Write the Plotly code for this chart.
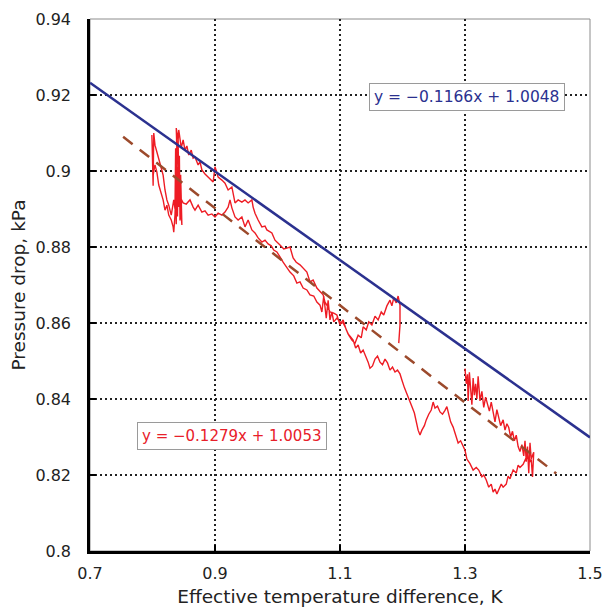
import plotly.graph_objects as go

temp_diff = [
    # upper-right cluster
    1.300, 1.302, 1.304, 1.305, 1.307, 1.309, 1.311, 1.313, 1.315, 1.317, 1.319, 1.321, 1.324, 1.327,
    1.330, 1.333, 1.336, 1.339, 1.342, 1.345, 1.348, 1.351, 1.354, 1.357, 1.361, 1.364, 1.367, 1.370,
    1.373, 1.376, 1.379, 1.382, 1.385, 1.388, 1.391, 1.394, 1.396, 1.398, 1.400, 1.402, 1.404, 1.406,
    1.408, 1.410,
    # lower U going left
    1.404, 1.399, 1.396, 1.393, 1.388, 1.385, 1.382, 1.377, 1.372, 1.369, 1.366, 1.361, 1.358, 1.354,
    1.351, 1.348, 1.345, 1.342, 1.338, 1.334, 1.330, 1.327, 1.322, 1.318, 1.313, 1.308, 1.303, 1.300,
    1.297, 1.293, 1.289, 1.285, 1.281, 1.277, 1.274, 1.271, 1.268, 1.264, 1.260, 1.256, 1.252, 1.249,
    1.246, 1.242, 1.238, 1.235, 1.231, 1.228, 1.225, 1.222, 1.219, 1.215, 1.211, 1.207, 1.203, 1.199,
    1.196, 1.192, 1.188, 1.184, 1.180, 1.176, 1.172, 1.168, 1.164, 1.160, 1.156, 1.152, 1.148, 1.145,
    1.141, 1.137, 1.133, 1.129, 1.125, 1.121, 1.117, 1.113, 1.109, 1.105,
    # lower branch going up-left
    1.100, 1.095, 1.090, 1.087, 1.084, 1.081, 1.078, 1.074, 1.071, 1.068, 1.063, 1.058, 1.052, 1.047,
    1.041, 1.036, 1.031, 1.026, 1.020, 1.015, 1.009, 1.004, 0.999, 0.994, 0.990, 0.985, 0.980, 0.975,
    0.969, 0.964, 0.959, 0.953, 0.948, 0.943, 0.937, 0.932, 0.927, 0.924, 0.921, 0.916, 0.911, 0.905,
    0.900, 0.895, 0.889, 0.884, 0.879, 0.873, 0.868, 0.865, 0.860, 0.854, 0.849, 0.844,
    # left cluster
    0.847, 0.845, 0.844, 0.843, 0.842, 0.841, 0.840, 0.839, 0.838, 0.837, 0.836, 0.834, 0.830, 0.826,
    0.823, 0.820, 0.817, 0.814, 0.810, 0.807, 0.804, 0.802, 0.801, 0.799, 0.801, 0.804, 0.807, 0.810,
    0.814, 0.817, 0.820, 0.823, 0.826, 0.830, 0.833, 0.834, 0.836, 0.838, 0.839, 0.838,
    # upper branch going down-right
    0.841, 0.842, 0.846, 0.849, 0.852, 0.855, 0.858, 0.862, 0.865, 0.868, 0.873, 0.876, 0.879, 0.884,
    0.889, 0.894, 0.897, 0.900, 0.905, 0.911, 0.916, 0.921, 0.927, 0.932, 0.937, 0.943, 0.948, 0.953,
    0.959, 0.961, 0.964, 0.969, 0.975, 0.980, 0.983, 0.991, 0.996, 1.004, 1.010, 1.015, 1.020, 1.025,
    1.030, 1.036, 1.041, 1.047, 1.052, 1.057, 1.063, 1.068, 1.073, 1.076, 1.079, 1.084, 1.090, 1.095,
    1.100, 1.105, 1.110, 1.114, 1.119, 1.124,
    # loop up to the fit line and drop
    1.129, 1.134, 1.137, 1.142, 1.146, 1.151, 1.156, 1.161, 1.166, 1.170, 1.175, 1.180, 1.183, 1.186,
    1.190, 1.193, 1.196, 1.196, 1.194,
]
pressure_drop = [
    0.8480, 0.8440, 0.8465, 0.8395, 0.8470, 0.8420, 0.8385, 0.8455, 0.8410, 0.8440, 0.8400, 0.8460, 0.8395, 0.8420,
    0.8378, 0.8405, 0.8382, 0.8368, 0.8392, 0.8360, 0.8340, 0.8372, 0.8350, 0.8330, 0.8345, 0.8318, 0.8335, 0.8325,
    0.8300, 0.8315, 0.8290, 0.8305, 0.8275, 0.8262, 0.8280, 0.8250, 0.8290, 0.8235, 0.8275, 0.8205, 0.8285, 0.8245,
    0.8195, 0.8260,
    0.8234, 0.8250, 0.8240, 0.8228, 0.8220, 0.8226, 0.8205, 0.8213, 0.8190, 0.8197, 0.8176, 0.8168, 0.8176, 0.8158,
    0.8150, 0.8163, 0.8155, 0.8176, 0.8168, 0.8187, 0.8200, 0.8195, 0.8213, 0.8220, 0.8213, 0.8230, 0.8242, 0.8265,
    0.8276, 0.8290, 0.8284, 0.8305, 0.8326, 0.8340, 0.8363, 0.8380, 0.8370, 0.8360, 0.8366, 0.8381, 0.8376, 0.8392,
    0.8371, 0.8360, 0.8345, 0.8330, 0.8318, 0.8305, 0.8318, 0.8345, 0.8363, 0.8380, 0.8397, 0.8410, 0.8430, 0.8450,
    0.8466, 0.8476, 0.8471, 0.8484, 0.8476, 0.8495, 0.8505, 0.8490, 0.8497, 0.8513, 0.8505, 0.8487, 0.8481, 0.8497,
    0.8516, 0.8529, 0.8521, 0.8542, 0.8534, 0.8555, 0.8563, 0.8571, 0.8587, 0.8600,
    0.8603, 0.8613, 0.8603, 0.8629, 0.8608, 0.8660, 0.8613, 0.8671, 0.8629, 0.8647, 0.8655, 0.8671, 0.8674, 0.8687,
    0.8692, 0.8708, 0.8705, 0.8724, 0.8734, 0.8745, 0.8760, 0.8774, 0.8787, 0.8792, 0.8803, 0.8808, 0.8818, 0.8813,
    0.8824, 0.8837, 0.8845, 0.8871, 0.8853, 0.8879, 0.8871, 0.8879, 0.8903, 0.8924, 0.8905, 0.8892, 0.8884, 0.8889,
    0.8879, 0.8887, 0.8884, 0.8895, 0.8892, 0.8910, 0.8897, 0.8905, 0.8924, 0.8913, 0.8916, 0.8932,
    0.8858, 0.8990, 0.8870, 0.9040, 0.8905, 0.9095, 0.8880, 0.9010, 0.8860, 0.9060, 0.8900, 0.8924, 0.8884, 0.8910,
    0.8924, 0.8950, 0.8989, 0.9008, 0.9029, 0.9050, 0.9068, 0.9100, 0.8961, 0.9095, 0.8989, 0.9016, 0.8997, 0.8963,
    0.8942, 0.8924, 0.8897, 0.8910, 0.8884, 0.8871, 0.8853, 0.8839, 0.8884, 0.8976, 0.9055, 0.9113,
    0.9082, 0.9108, 0.9061, 0.9082, 0.9055, 0.9066, 0.9042, 0.9055, 0.9034, 0.9037, 0.9016, 0.9024, 0.9003, 0.8992,
    0.8984, 0.8976, 0.8971, 0.9011, 0.8984, 0.8976, 0.8968, 0.8950, 0.8958, 0.8916, 0.8924, 0.8918, 0.8924, 0.8916,
    0.8924, 0.8905, 0.8889, 0.8871, 0.8853, 0.8855, 0.8845, 0.8837, 0.8818, 0.8805, 0.8795, 0.8797, 0.8800, 0.8771,
    0.8760, 0.8753, 0.8745, 0.8734, 0.8708, 0.8713, 0.8692, 0.8682, 0.8674, 0.8655, 0.8647, 0.8629, 0.8626, 0.8621,
    0.8595, 0.8608, 0.8582, 0.8568, 0.8555, 0.8547,
    0.8568, 0.8561, 0.8590, 0.8582, 0.8603, 0.8595, 0.8618, 0.8608, 0.8629, 0.8621, 0.8645, 0.8660, 0.8645, 0.8666,
    0.8653, 0.8671, 0.8647, 0.8595, 0.8547,
]

# Fit lines (end points)
blue_fit_x = [0.7, 1.5]
blue_fit_y = [0.9232, 0.8299]
red_fit_x = [0.753, 1.446]
red_fit_y = [0.9090, 0.8204]

blue_eq = "y = −0.1166x + 1.0048"
red_eq = "y = −0.1279x + 1.0053"

x_ticks = [0.7, 0.9, 1.1, 1.3, 1.5]
y_ticks = [0.8, 0.82, 0.84, 0.86, 0.88, 0.9, 0.92, 0.94]

FONT = "DejaVu Sans, Arial, sans-serif"

fig = go.Figure()
fig.add_trace(go.Scatter(x=temp_diff, y=pressure_drop, mode="lines",
                         line=dict(color="#ee1c24", width=1.4), showlegend=False))
fig.add_trace(go.Scatter(x=red_fit_x, y=red_fit_y, mode="lines",
                         line=dict(color="#9c4a2c", width=2.5, dash="12px,9px"), showlegend=False))
fig.add_trace(go.Scatter(x=blue_fit_x, y=blue_fit_y, mode="lines",
                         line=dict(color="#2b318f", width=2.5), showlegend=False))

fig.add_annotation(x=1.3032, y=0.9194, xref="x", yref="y", text=blue_eq, showarrow=False,
                   font=dict(family=FONT, size=15.5, color="#2b318f"),
                   bgcolor="white", bordercolor="#9a9a9a", borderwidth=1, borderpad=4)
fig.add_annotation(x=0.9264, y=0.8302, xref="x", yref="y", text=red_eq, showarrow=False,
                   font=dict(family=FONT, size=15, color="#e8202a"),
                   bgcolor="white", bordercolor="#9a9a9a", borderwidth=1, borderpad=4)

# thin grey frame (top/right)
fig.add_shape(type="rect", xref="paper", yref="paper", x0=0, y0=0, x1=1, y1=1,
              line=dict(color="#8c8c8c", width=1), layer="below")

# page body has an 8px default margin, so the figure is 604px and margins are offset
fig.update_layout(
    width=604, height=604,
    margin=dict(l=82, r=22, t=11, b=61, pad=0),
    paper_bgcolor="white", plot_bgcolor="white",
    font=dict(family=FONT, size=16, color="#222222"),
    xaxis=dict(range=[0.7, 1.5], tickvals=x_ticks, ticktext=[str(v) for v in x_ticks],
               automargin=False,
               showgrid=True, gridcolor="#222222", gridwidth=1.5, griddash="2px,3px",
               zeroline=False, showline=True, linecolor="black", linewidth=2.5,
               ticks="inside", ticklen=6, tickwidth=2, tickcolor="black",
               ticklabelstandoff=6, tickfont=dict(size=16),
               title=dict(text="Effective temperature difference, K", standoff=9,
                          font=dict(family=FONT, size=18.5))),
    yaxis=dict(range=[0.8, 0.94], tickvals=y_ticks, ticktext=[("%g" % v) for v in y_ticks],
               automargin=False,
               showgrid=True, gridcolor="#222222", gridwidth=1.5, griddash="2px,3px",
               zeroline=False, showline=True, linecolor="black", linewidth=2.5,
               ticks="inside", ticklen=6, tickwidth=2, tickcolor="black",
               ticklabelstandoff=13, tickfont=dict(size=16),
               title=dict(text="Pressure drop, kPa", standoff=6,
                          font=dict(family=FONT, size=18.5))),
)

fig.write_html("out.html")
